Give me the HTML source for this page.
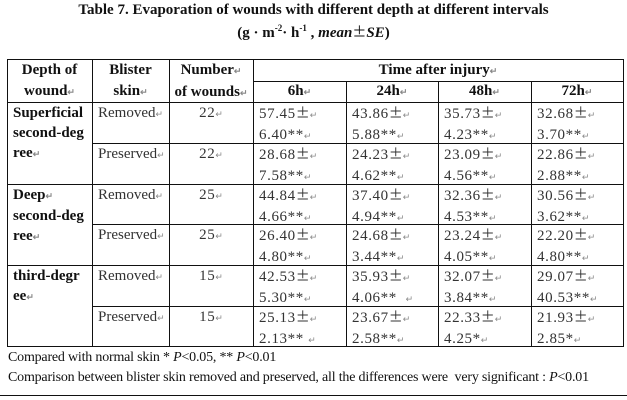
<!DOCTYPE html>
<html><head><meta charset="utf-8"><style>
body{margin:0;width:627px;height:400px;background:#fff;position:relative;overflow:hidden;font-family:"Liberation Serif",serif;}
div{position:absolute;}
.t{left:0;width:627px;text-align:center;font-weight:bold;font-size:15px;color:#111;}
.hl{height:1.3px;background:#111;}
.vl{width:1.3px;background:#111;}
.x{font-size:15px;line-height:20px;color:#333;white-space:nowrap;}
.n{letter-spacing:0.6px;}
.b{font-weight:bold;color:#111;}
.c{text-align:center;}
.pm{font-family:"Noto Sans CJK SC",sans-serif;font-size:14px;letter-spacing:0;}
i.r{font-style:normal;font-size:9px;color:#888;letter-spacing:0;}
.f{left:8px;font-size:14px;color:#111;letter-spacing:-0.2px;white-space:nowrap;}
</style></head><body>
<div class="t" style="top:2px">Table 7. Evaporation of wounds with different depth at different intervals</div>
<div class="t" style="top:22px">(g · m<sup style="font-size:9px">-2</sup>· h<sup style="font-size:9px">-1</sup> , <i>mean</i><span class="pm" style="font-weight:normal">±</span><i>SE</i>)</div>

<div class="hl" style="left:7px;width:617px;top:59px"></div>
<div class="hl" style="left:253px;width:371px;top:81px"></div>
<div class="hl" style="left:7px;width:617px;top:102px"></div>
<div class="hl" style="left:92px;width:532px;top:143px"></div>
<div class="hl" style="left:7px;width:617px;top:184px"></div>
<div class="hl" style="left:92px;width:532px;top:224px"></div>
<div class="hl" style="left:7px;width:617px;top:265px"></div>
<div class="hl" style="left:92px;width:532px;top:306px"></div>
<div class="hl" style="left:7px;width:617px;top:346px"></div>
<div class="vl" style="left:7px;top:59px;height:288px"></div>
<div class="vl" style="left:92px;top:59px;height:288px"></div>
<div class="vl" style="left:169px;top:59px;height:288px"></div>
<div class="vl" style="left:253px;top:59px;height:288px"></div>
<div class="vl" style="left:346px;top:81px;height:266px"></div>
<div class="vl" style="left:438px;top:81px;height:266px"></div>
<div class="vl" style="left:531px;top:81px;height:266px"></div>
<div class="vl" style="left:623px;top:59px;height:288px"></div>

<div class="x b c" style="left:7px;width:85px;top:60px;line-height:21px">Depth of<br>wound<i class="r">↵</i></div>
<div class="x b c" style="left:92px;width:77px;top:60px;line-height:21px">Blister<br>skin<i class="r">↵</i></div>
<div class="x b c" style="left:169px;width:84px;top:60px;line-height:21px">Number<i class="r">↵</i><br>of wounds<i class="r">↵</i></div>
<div class="x b c" style="left:253px;width:370px;top:60px">Time after injury<i class="r">↵</i></div>
<div class="x b c" style="left:253px;width:93px;top:81px">6h<i class="r">↵</i></div>
<div class="x b c" style="left:346px;width:92px;top:81px">24h<i class="r">↵</i></div>
<div class="x b c" style="left:438px;width:93px;top:81px">48h<i class="r">↵</i></div>
<div class="x b c" style="left:531px;width:92px;top:81px">72h<i class="r">↵</i></div>

<div class="x b" style="left:13px;top:103px">Superficial<br>second-deg<br>ree<i class="r">↵</i></div>
<div class="x b" style="left:13px;top:185px">Deep<i class="r">↵</i><br>second-deg<br>ree<i class="r">↵</i></div>
<div class="x b" style="left:13px;top:266px">third-degr<br>ee<i class="r">↵</i></div>

<div class="x" style="left:98px;top:103px">Removed<i class="r">↵</i></div>
<div class="x" style="left:98px;top:144px">Preserved<i class="r">↵</i></div>
<div class="x" style="left:98px;top:185px">Removed<i class="r">↵</i></div>
<div class="x" style="left:98px;top:225px">Preserved<i class="r">↵</i></div>
<div class="x" style="left:98px;top:266px">Removed<i class="r">↵</i></div>
<div class="x" style="left:98px;top:307px">Preserved<i class="r">↵</i></div>

<div class="x c n" style="left:169px;width:84px;top:103px">22<i class="r">↵</i></div>
<div class="x c n" style="left:169px;width:84px;top:144px">22<i class="r">↵</i></div>
<div class="x c n" style="left:169px;width:84px;top:185px">25<i class="r">↵</i></div>
<div class="x c n" style="left:169px;width:84px;top:225px">25<i class="r">↵</i></div>
<div class="x c n" style="left:169px;width:84px;top:266px">15<i class="r">↵</i></div>
<div class="x c n" style="left:169px;width:84px;top:307px">15<i class="r">↵</i></div>

<div class="x n" style="left:259px;top:103px">57.45<span class="pm">±</span><i class="r">↵</i><br>6.40**<i class="r">↵</i></div>
<div class="x n" style="left:259px;top:144px">28.68<span class="pm">±</span><i class="r">↵</i><br>7.58**<i class="r">↵</i></div>
<div class="x n" style="left:259px;top:185px">44.84<span class="pm">±</span><i class="r">↵</i><br>4.66**<i class="r">↵</i></div>
<div class="x n" style="left:259px;top:225px">26.40<span class="pm">±</span><i class="r">↵</i><br>4.80**<i class="r">↵</i></div>
<div class="x n" style="left:259px;top:266px">42.53<span class="pm">±</span><i class="r">↵</i><br>5.30**<i class="r">↵</i></div>
<div class="x n" style="left:259px;top:307px">25.13<span class="pm">±</span><i class="r">↵</i><br>2.13** <i class="r">↵</i></div>
<div class="x n" style="left:352px;top:103px">43.86<span class="pm">±</span><i class="r">↵</i><br>5.88**<i class="r">↵</i></div>
<div class="x n" style="left:352px;top:144px">24.23<span class="pm">±</span><i class="r">↵</i><br>4.62**<i class="r">↵</i></div>
<div class="x n" style="left:352px;top:185px">37.40<span class="pm">±</span><i class="r">↵</i><br>4.94**<i class="r">↵</i></div>
<div class="x n" style="left:352px;top:225px">24.68<span class="pm">±</span><i class="r">↵</i><br>3.44**<i class="r">↵</i></div>
<div class="x n" style="left:352px;top:266px">35.93<span class="pm">±</span><i class="r">↵</i><br>4.06** &nbsp;<i class="r">↵</i></div>
<div class="x n" style="left:352px;top:307px">23.67<span class="pm">±</span><i class="r">↵</i><br>2.58**<i class="r">↵</i></div>
<div class="x n" style="left:444px;top:103px">35.73<span class="pm">±</span><i class="r">↵</i><br>4.23**<i class="r">↵</i></div>
<div class="x n" style="left:444px;top:144px">23.09<span class="pm">±</span><i class="r">↵</i><br>4.56**<i class="r">↵</i></div>
<div class="x n" style="left:444px;top:185px">32.36<span class="pm">±</span><i class="r">↵</i><br>4.53**<i class="r">↵</i></div>
<div class="x n" style="left:444px;top:225px">23.24<span class="pm">±</span><i class="r">↵</i><br>4.05**<i class="r">↵</i></div>
<div class="x n" style="left:444px;top:266px">32.07<span class="pm">±</span><i class="r">↵</i><br>3.84**<i class="r">↵</i></div>
<div class="x n" style="left:444px;top:307px">22.33<span class="pm">±</span><i class="r">↵</i><br>4.25*<i class="r">↵</i></div>
<div class="x n" style="left:537px;top:103px">32.68<span class="pm">±</span><i class="r">↵</i><br>3.70**<i class="r">↵</i></div>
<div class="x n" style="left:537px;top:144px">22.86<span class="pm">±</span><i class="r">↵</i><br>2.88**<i class="r">↵</i></div>
<div class="x n" style="left:537px;top:185px">30.56<span class="pm">±</span><i class="r">↵</i><br>3.62**<i class="r">↵</i></div>
<div class="x n" style="left:537px;top:225px">22.20<span class="pm">±</span><i class="r">↵</i><br>4.80**<i class="r">↵</i></div>
<div class="x n" style="left:537px;top:266px">29.07<span class="pm">±</span><i class="r">↵</i><br>40.53**<i class="r">↵</i></div>
<div class="x n" style="left:537px;top:307px">21.93<span class="pm">±</span><i class="r">↵</i><br>2.85*<i class="r">↵</i></div>

<div class="f" style="top:350px">Compared with normal skin * <i>P</i>&lt;0.05, ** <i>P</i>&lt;0.01</div>
<div class="f" style="top:370px">Comparison between blister skin removed and preserved, all the differences were &nbsp;very significant : <i>P</i>&lt;0.01</div>
<div style="left:0;top:395px;width:627px;height:1px;background:#111"></div>
</body></html>
